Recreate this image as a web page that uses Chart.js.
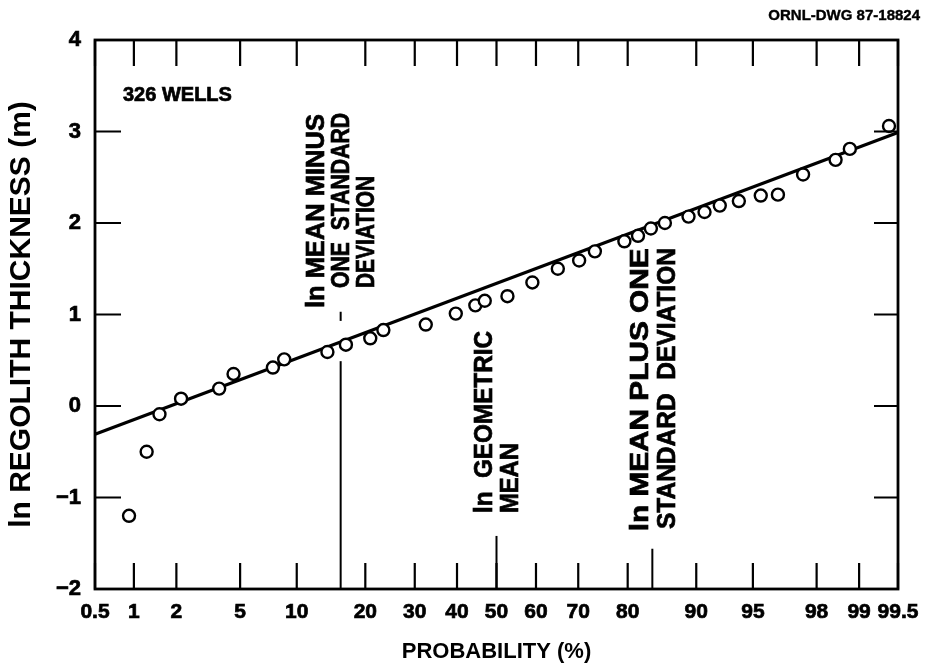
<!DOCTYPE html>
<html><head><meta charset="utf-8">
<script src="https://cdn.jsdelivr.net/npm/chart.js@4.4.1/dist/chart.umd.min.js"></script>
<style>html,body{margin:0;padding:0;background:#fff;}#wrap{width:939px;height:668px;position:relative;}</style>
</head><body><div id="wrap"><canvas id="c" width="939" height="668"></canvas></div>
<script>
// ---- data ----
const probTicks = [0.5, 1, 2, 5, 10, 20, 30, 40, 50, 60, 70, 80, 90, 95, 98, 99, 99.5];
const probTickLabels = ['0.5','1','2','5','10','20','30','40','50','60','70','80','90','95','98','99','99.5'];
const yTicks = [-2, -1, 0, 1, 2, 3, 4];
const wellProb = [0.92, 1.24, 1.53, 2.15, 3.76, 4.58, 7.57, 8.66, 13.9, 16.7, 20.9, 23.4, 32.5, 39.7, 44.6, 47.0, 52.8, 59.1, 65.3, 70.2, 73.6, 79.4, 81.8, 83.9, 86.0, 89.1, 90.9, 92.4, 94.0, 95.5, 96.45, 97.54, 98.52, 98.83, 99.41];
const wellLnThickness = [-1.20, -0.50, -0.09, 0.08, 0.19, 0.35, 0.42, 0.51, 0.59, 0.67, 0.74, 0.83, 0.89, 1.01, 1.10, 1.15, 1.20, 1.35, 1.50, 1.59, 1.69, 1.80, 1.86, 1.94, 2.00, 2.07, 2.12, 2.19, 2.24, 2.30, 2.31, 2.53, 2.69, 2.81, 3.06];
const fitProb = [0.5, 99.5];
const fitLnThickness = [-0.31, 2.99];
// reference lines: mean - 1 SD, geometric mean, mean + 1 SD (probability %)
const refProb = [15.87, 50, 84.13];
const refFrom = [-2, -2, -2];
const refTo = [0.49, -1.42, -1.56];
const dashProb = 15.87, dashFrom = 0.93, dashTo = 1.03;
const refLabels = [
  ['ln MEAN MINUS', 'ONE  STANDARD', 'DEVIATION'],
  ['ln  GEOMETRIC', 'MEAN'],
  ['ln MEAN PLUS ONE', 'STANDARD  DEVIATION']
];
const wellsLabel = '326 WELLS';
const drawingId = 'ORNL-DWG 87-18824';
const xTitle = 'PROBABILITY (%)';
const yTitle = 'ln REGOLITH THICKNESS (m)';

// ---- probability -> standard normal quantile (probability paper) ----
function probit(p){
  const a=[-3.969683028665376e+01,2.209460984245205e+02,-2.759285104469687e+02,1.383577518672690e+02,-3.066479806614716e+01,2.506628277459239e+00];
  const b=[-5.447609879822406e+01,1.615858368580409e+02,-1.556989798598866e+02,6.680131188771972e+01,-1.328068155288572e+01];
  const c=[-7.784894002430293e-03,-3.223964580411365e-01,-2.400758277161838e+00,-2.549732539343734e+00,4.374664141464968e+00,2.938163982698783e+00];
  const d=[7.784695709041462e-03,3.224671290700398e-01,2.445134137142996e+00,3.754408661907416e+00];
  const pl=0.02425, ph=1-pl; let q,r;
  if(p<pl){q=Math.sqrt(-2*Math.log(p));return (((((c[0]*q+c[1])*q+c[2])*q+c[3])*q+c[4])*q+c[5])/((((d[0]*q+d[1])*q+d[2])*q+d[3])*q+1);}
  if(p<=ph){q=p-0.5;r=q*q;return (((((a[0]*r+a[1])*r+a[2])*r+a[3])*r+a[4])*r+a[5])*q/(((((b[0]*r+b[1])*r+b[2])*r+b[3])*r+b[4])*r+1);}
  q=Math.sqrt(-2*Math.log(1-p));return -(((((c[0]*q+c[1])*q+c[2])*q+c[3])*q+c[4])*q+c[5])/((((d[0]*q+d[1])*q+d[2])*q+d[3])*q+1);
}
const zp = p => probit(p/100);

const FONT = "'Liberation Sans', Arial, Helvetica, sans-serif";
const lineDs = (pts, w) => ({data: pts, showLine: true, pointRadius: 0, borderColor: '#000', borderWidth: w, order: 2, clip: false});

const datasets = [
  {data: wellProb.map((p,i)=>({x: zp(p), y: wellLnThickness[i]})), showLine: false, pointStyle: 'circle', pointRadius: 6, pointBorderWidth: 2.4, borderColor: '#000', backgroundColor: '#fff', order: 0, clip: false},
  Object.assign(lineDs(fitProb.map((p,i)=>({x: zp(p), y: fitLnThickness[i]})), 3.2), {order: 1}),
  ...refProb.map((p,i)=>lineDs([{x: zp(p), y: refFrom[i]}, {x: zp(p), y: refTo[i]}], 2)),
  lineDs([{x: zp(dashProb), y: dashFrom}, {x: zp(dashProb), y: dashTo}], 2)
];

const frame = {
  id: 'frame',
  afterDatasetsDraw(chart){
    const {ctx, chartArea: a, scales: {x, y}} = chart;
    ctx.save();
    ctx.strokeStyle = '#000';
    ctx.lineWidth = 2.2;
    const T = 26;
    ctx.beginPath();
    x.ticks.forEach((t,i)=>{ const px = x.getPixelForTick(i);
      ctx.moveTo(px, a.bottom); ctx.lineTo(px, a.bottom - T);
      ctx.moveTo(px, a.top); ctx.lineTo(px, a.top + T); });
    y.ticks.forEach((t,i)=>{ const py = y.getPixelForTick(i);
      ctx.moveTo(a.left, py); ctx.lineTo(a.left + T, py);
      ctx.moveTo(a.right, py); ctx.lineTo(a.right - 24, py); });
    ctx.stroke();
    ctx.lineWidth = 2.8;
    ctx.strokeRect(a.left, a.top, a.right - a.left, a.bottom - a.top);
    // annotations (rotated, drawn upward from an anchor; stretched to the lengths seen in the drawing)
    ctx.fillStyle = '#000';
    ctx.strokeStyle = '#000';
    ctx.lineWidth = 0.7;
    ctx.font = 'bold 25px ' + FONT;
    ctx.textBaseline = 'middle';
    ctx.textAlign = 'left';
    const vtext = (txt, px, py, len) => {
      ctx.save(); ctx.translate(px, py); ctx.rotate(-Math.PI/2);
      const w = ctx.measureText(txt).width; ctx.scale(len / w, 1);
      ctx.fillText(txt, 0, 0); ctx.strokeText(txt, 0, 0); ctx.restore(); };
    const x0 = x.getPixelForValue(zp(refProb[0])), x1 = x.getPixelForValue(zp(refProb[1])), x2 = x.getPixelForValue(zp(refProb[2]));
    vtext(refLabels[0][0], x0 - 24, y.getPixelForValue(1.07), 194);
    vtext(refLabels[0][1], x0 + 1, y.getPixelForValue(1.29), 175);
    vtext(refLabels[0][2], x0 + 26, y.getPixelForValue(1.29), 112);
    vtext(refLabels[1][0], x1 - 11, y.getPixelForValue(-1.17), 182);
    vtext(refLabels[1][1], x1 + 15, y.getPixelForValue(-1.17), 70);
    vtext(refLabels[2][0], x2 - 11, y.getPixelForValue(-1.37), 283);
    vtext(refLabels[2][1], x2 + 16, y.getPixelForValue(-1.345), 281);
    ctx.font = 'bold 20px ' + FONT;
    ctx.fillText(wellsLabel, a.left + 28, a.top + 55);
    ctx.strokeText(wellsLabel, a.left + 28, a.top + 55);
    ctx.font = 'bold 15px ' + FONT;
    ctx.textAlign = 'right';
    ctx.lineWidth = 0.4;
    ctx.fillText(drawingId, 920, 16);
    ctx.strokeText(drawingId, 920, 16);
    ctx.restore();
  }
};

new Chart(document.getElementById('c'), {
  type: 'scatter',
  data: {datasets},
  plugins: [frame],
  options: {
    responsive: false, animation: false,
    layout: {padding: {left: 0, right: 41, top: 40, bottom: 0}},
    plugins: {legend: {display: false}, tooltip: {enabled: false}},
    scales: {
      x: {
        type: 'linear', position: 'bottom', min: zp(0.5), max: zp(99.5),
        afterBuildTicks: s => { s.ticks = probTicks.map(p => ({value: zp(p)})); },
        afterFit: s => { s.height = 79; },
        grid: {display: false, drawTicks: false}, border: {display: false},
        ticks: {autoSkip: false, maxRotation: 0, padding: 11, color: '#000', textStrokeColor: '#000', textStrokeWidth: 0.7,
          font: {family: FONT, size: 21, weight: 'bold'},
          callback: (v, i) => probTickLabels[i]},
        title: {display: true, text: xTitle, color: '#000', font: {family: FONT, size: 22, weight: 'bold'}, padding: {top: 0, bottom: 3}}
      },
      y: {
        type: 'linear', position: 'left', min: -2, max: 4,
        afterBuildTicks: s => { s.ticks = yTicks.map(v => ({value: v})); },
        afterFit: s => { s.width = 95; },
        grid: {display: false, drawTicks: false}, border: {display: false},
        ticks: {autoSkip: false, padding: 14, color: '#000', textStrokeColor: '#000', textStrokeWidth: 0.7,
          font: {family: FONT, size: 22, weight: 'bold'},
          callback: v => (v < 0 ? '\u2212' + Math.abs(v) : String(v))},
        title: {display: true, text: yTitle, color: '#000', font: {family: FONT, size: 30, weight: 'bold'}, padding: {top: 4, bottom: 0}}
      }
    }
  }
});
</script></body></html>
